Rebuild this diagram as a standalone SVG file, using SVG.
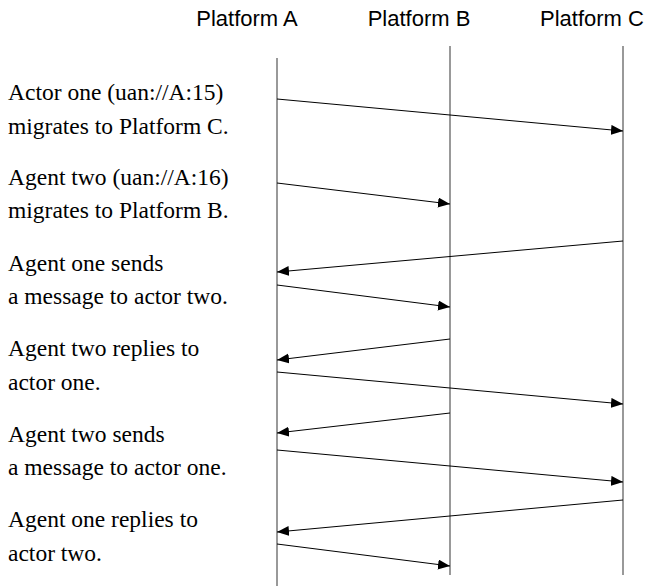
<svg xmlns="http://www.w3.org/2000/svg" width="650" height="586" viewBox="0 0 650 586">
  <style>
    .hdr { font-family: "Liberation Sans", Arial, sans-serif; font-size: 22px; fill: #000; text-anchor: middle; }
    .note { font-family: "Liberation Serif", "Times New Roman", serif; font-size: 23.5px; fill: #000; }
    .life { stroke: #555; stroke-width: 1.2; fill: none; }
    .msg { stroke: #000; stroke-width: 1; fill: none; marker-end: url(#head); }
  </style>
  <defs>
    <marker id="head" markerUnits="userSpaceOnUse" markerWidth="13" markerHeight="11" refX="12" refY="5" orient="auto">
      <path d="M0,0 L12,5 L0,10 z" fill="#000"/>
    </marker>
  </defs>
  <rect width="650" height="586" fill="#fff"/>

  <!-- platform lifelines -->
  <g id="platform-a">
    <text class="hdr" x="247" y="26">Platform A</text>
    <line class="life" x1="277" y1="58" x2="277" y2="586"/>
  </g>
  <g id="platform-b">
    <text class="hdr" x="419" y="26">Platform B</text>
    <line class="life" x1="450" y1="46" x2="450" y2="575"/>
  </g>
  <g id="platform-c">
    <text class="hdr" x="592" y="26">Platform C</text>
    <line class="life" x1="623" y1="46" x2="623" y2="575"/>
  </g>

  <!-- step descriptions -->
  <g id="notes">
    <text class="note" x="8" y="100">Actor one (uan://A:15)</text>
    <text class="note" x="8" y="134">migrates to Platform C.</text>
    <text class="note" x="8" y="185">Agent two (uan://A:16)</text>
    <text class="note" x="8" y="218">migrates to Platform B.</text>
    <text class="note" x="8" y="271">Agent one sends</text>
    <text class="note" x="8" y="304">a message to actor two.</text>
    <text class="note" x="8" y="356">Agent two replies to</text>
    <text class="note" x="8" y="390">actor one.</text>
    <text class="note" x="8" y="442">Agent two sends</text>
    <text class="note" x="8" y="475">a message to actor one.</text>
    <text class="note" x="8" y="527">Agent one replies to</text>
    <text class="note" x="8" y="561">actor two.</text>
  </g>

  <!-- messages -->
  <g id="connectors">
    <line class="msg" x1="277" y1="99" x2="623" y2="131"/>
    <line class="msg" x1="277" y1="183" x2="450" y2="204"/>
    <line class="msg" x1="623" y1="241" x2="277" y2="272"/>
    <line class="msg" x1="277" y1="285" x2="450" y2="307"/>
    <line class="msg" x1="450" y1="339" x2="277" y2="360"/>
    <line class="msg" x1="277" y1="372" x2="623" y2="404"/>
    <line class="msg" x1="450" y1="413" x2="277" y2="433"/>
    <line class="msg" x1="277" y1="450" x2="623" y2="482"/>
    <line class="msg" x1="623" y1="500" x2="277" y2="532"/>
    <line class="msg" x1="277" y1="544" x2="450" y2="566"/>
  </g>
</svg>
